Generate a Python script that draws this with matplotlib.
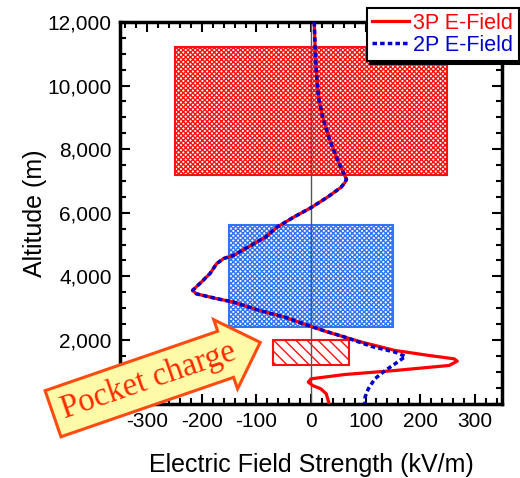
import matplotlib
matplotlib.use("Agg")
import matplotlib.pyplot as plt
import matplotlib.patches as mpatches
from matplotlib.ticker import MultipleLocator, FuncFormatter

plt.rcParams['font.family'] = ['Liberation Sans', 'DejaVu Sans']
plt.rcParams['hatch.linewidth'] = 1.0

# 上部两条曲线重合 (altitude m, E kV/m)
alt_top = [12000, 11200, 10600, 9650, 9000, 8300, 7650, 7050, 6950, 6800, 6500,
           6160, 5870, 5550, 5240, 4660, 4560, 4400, 4090, 3770, 3560, 3450,
           3300, 3190, 2930, 2720, 2425]
e_top = [6, 7.5, 9, 13.5, 21.5, 34, 49, 65, 62, 55, 31,
         0, -31, -62, -83, -142, -160, -173, -185, -204, -217, -210,
         -173, -142, -95, -49, 0]

# 3P 下部
alt_3p = [2246, 1931, 1669, 1512, 1407, 1333, 1197, 1039, 913, 777, 672, 567, 462, 305, 0]
e_3p = [31, 93, 154, 216, 262, 268, 253, 154, 62, 0, -5, 3, 18, 28, 33]

# 2P 下部
alt_2p = [2320, 2089, 1795, 1617, 1480, 1250, 1039, 777, 462, 200, 0]
e_2p = [18.5, 62, 111, 154, 173, 154, 136, 117, 105, 99, 99]

# 电荷区 (x0, x1, z0, z1)
charge_upper = (-250, 250, 7200, 11200)
charge_mid = (-150, 150, 2400, 5600)
charge_pocket = (-70, 70, 1200, 2000)

fig = plt.figure(figsize=(5.2, 4.78), dpi=100)
ax = fig.add_axes([0.2308, 0.1558, 0.7346, 0.7982])

def add_box(b, color, hatch):
    x0, x1, z0, z1 = b
    ax.add_patch(mpatches.Rectangle((x0, z0), x1 - x0, z1 - z0, facecolor='white',
                                    edgecolor=color, hatch=hatch, lw=1.5, zorder=1))

add_box(charge_upper, '#ff1010', 'xxxxxxx')
add_box(charge_mid, '#2f75f5', 'xxxxxxx')
add_box(charge_pocket, '#ff1010', '\\\\\\')

ax.axvline(0, color='#555555', lw=1.0, zorder=2)

ax.plot(e_top + e_3p, alt_top + alt_3p, color='#ff0000', lw=2.3, zorder=3, label='3P E-Field')
ax.plot(e_top + e_2p, alt_top + alt_2p, color='#0000cc', lw=2.5, ls=(0, (1.3, 0.9)),
        zorder=4, label='2P E-Field')

ax.set_xlim(-350, 350)
ax.set_ylim(0, 12000)
ax.xaxis.set_major_locator(MultipleLocator(100))
ax.xaxis.set_minor_locator(MultipleLocator(20))
ax.yaxis.set_major_locator(MultipleLocator(2000))
ax.yaxis.set_minor_locator(MultipleLocator(500))
ax.xaxis.set_major_formatter(FuncFormatter(lambda v, p: '%d' % v))
ax.yaxis.set_major_formatter(FuncFormatter(lambda v, p: '{:,.0f}'.format(v)))
ax.set_xticks([-300, -200, -100, 0, 100, 200, 300])
ax.tick_params(which='both', direction='in', top=True, right=True, width=1.5, labelsize=15)
ax.tick_params(which='major', length=7, pad=6)
ax.tick_params(which='minor', length=4)
for s in ax.spines.values():
    s.set_linewidth(2.5)

ax.set_xlabel('Electric Field Strength (kV/m)', fontsize=18, labelpad=16)
ax.set_ylabel('Altitude (m)', fontsize=18, labelpad=0)

leg = ax.legend(loc='upper right', bbox_to_anchor=(1.012, 1.0), bbox_transform=fig.transFigure,
                fontsize=15.5, handlelength=1.7, handletextpad=0.2, labelspacing=0.05,
                borderpad=0.25, borderaxespad=0.35, fancybox=False,
                shadow={'color': 'black', 'alpha': 1.0})
leg.get_frame().set_edgecolor('black')
leg.get_frame().set_linewidth(1.5)
for t, c in zip(leg.get_texts(), ['#ff0000', '#0000cc']):
    t.set_color(c)

fig.text(0.285, 0.203, 'Pocket charge', family=['Liberation Serif', 'DejaVu Serif'],
         fontsize=23.5, color='#ff2a00', rotation=19, ha='center', va='center',
         rotation_mode='anchor', zorder=10,
         bbox=dict(boxstyle='rarrow,pad=0.28', fc='#fffaa8', ec='#ff4a10', lw=2.2))

fig.savefig('out.png', dpi=100, facecolor='white')
